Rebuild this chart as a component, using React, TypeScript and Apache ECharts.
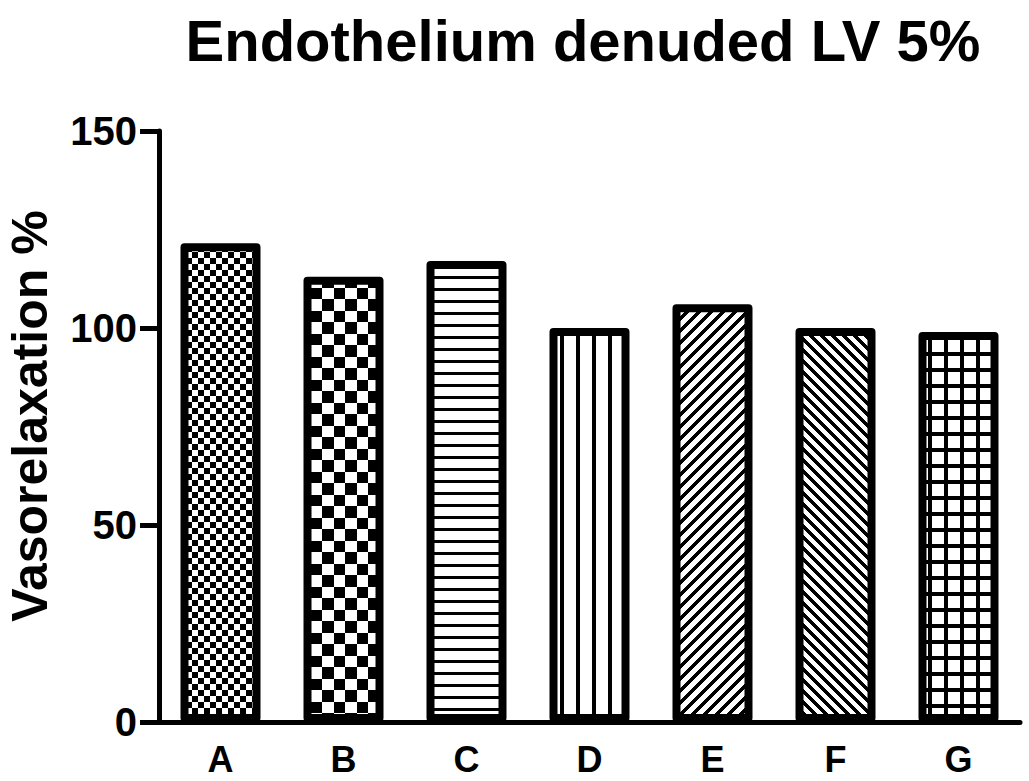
import React, { useEffect, useRef } from "react";
import * as echarts from "echarts";

const categories = ["A", "B", "C", "D", "E", "F", "G"];
const values = [121.5, 113, 117, 100, 106, 100, 99];
const yTicks = [0, 50, 100, 150];
const titleText = "Endothelium denuded LV 5%";
const yAxisTitle = "Vasorelaxation %";
const patternKinds = ["fineChecker", "coarseChecker", "hLines", "vLines", "diagUp", "diagDown", "grid"];

function makePattern(kind: string): HTMLCanvasElement {
  let w = 12;
  let h = 12;
  let test: (x: number, y: number) => boolean = () => false;
  switch (kind) {
    case "fineChecker":
      w = h = 12;
      test = (x, y) => (Math.floor(x / 6) + Math.floor(y / 6)) % 2 === 0;
      break;
    case "coarseChecker":
      w = h = 23;
      test = (x, y) => ((x < 12 ? 0 : 1) + (y < 12 ? 0 : 1)) % 2 === 0;
      break;
    case "hLines":
      w = 4; h = 12;
      test = (_x, y) => y < 3;
      break;
    case "vLines":
      w = 16; h = 4;
      test = (x) => x < 4;
      break;
    case "diagUp":
      w = h = 12;
      test = (x, y) => (x + y) % 12 < 5;
      break;
    case "diagDown":
      w = h = 11;
      test = (x, y) => (((x - y) % 11) + 11) % 11 < 5;
      break;
    case "grid":
      w = h = 16;
      test = (x, y) => x < 4 || y < 4;
      break;
  }
  const c = document.createElement("canvas");
  c.width = w;
  c.height = h;
  const ctx = c.getContext("2d")!;
  const img = ctx.createImageData(w, h);
  for (let y = 0; y < h; y++) {
    for (let x = 0; x < w; x++) {
      const i = (y * w + x) * 4;
      const v = test(x, y) ? 0 : 255;
      img.data[i] = v;
      img.data[i + 1] = v;
      img.data[i + 2] = v;
      img.data[i + 3] = 255;
    }
  }
  ctx.putImageData(img, 0, 0);
  return c;
}

export default function App() {
  const ref = useRef<HTMLDivElement>(null);
  useEffect(() => {
    document.body.style.margin = "0";
    if (!ref.current) return;
    const chart = echarts.init(ref.current, undefined, { renderer: "svg" });
    const patterns = patternKinds.map(makePattern);
    const labelFont = "'Liberation Sans', Arial, sans-serif";
    chart.setOption({
      animation: false,
      backgroundColor: "#ffffff",
      grid: { left: 159, right: 9, top: 131, bottom: 59, containLabel: false, outerBoundsMode: "none" },
      xAxis: {
        type: "category",
        data: categories,
        axisTick: { show: false },
        axisLine: { show: true, lineStyle: { color: "#000", width: 5 } },
        axisLabel: { color: "#000", fontSize: 36, fontWeight: "bold", fontFamily: labelFont, margin: 19 },
        splitLine: { show: false },
      },
      yAxis: {
        type: "value",
        min: yTicks[0],
        max: yTicks[yTicks.length - 1],
        interval: yTicks[1] - yTicks[0],
        axisLine: { show: true, lineStyle: { color: "#000", width: 5 } },
        axisTick: { show: true, length: 19, lineStyle: { color: "#000", width: 5 } },
        axisLabel: { color: "#000", fontSize: 40, fontWeight: "bold", fontFamily: labelFont, margin: 22 },
        splitLine: { show: false },
      },
      series: [
        {
          type: "bar",
          barWidth: 80,
          data: values.map((v, i) => ({
            value: v,
            itemStyle: { color: { image: patterns[i], repeat: "repeat" } },
          })),
          itemStyle: { borderColor: "#000", borderWidth: 8, borderJoin: "round" },
        },
      ],
      graphic: [
        {
          type: "text",
          x: 583,
          y: 40,
          style: {
            text: titleText,
            fill: "#000",
            font: "bold 58px 'Liberation Sans', Arial, sans-serif",
            textAlign: "center",
            textVerticalAlign: "middle",
          },
        },
        {
          type: "text",
          x: 30,
          y: 416,
          rotation: Math.PI / 2,
          style: {
            text: yAxisTitle,
            fill: "#000",
            font: "bold 50px 'Liberation Sans', Arial, sans-serif",
            textAlign: "center",
            textVerticalAlign: "middle",
          },
        },
      ],
    });
    return () => chart.dispose();
  }, []);
  return <div ref={ref} style={{ width: 1029, height: 781 }} />;
}
